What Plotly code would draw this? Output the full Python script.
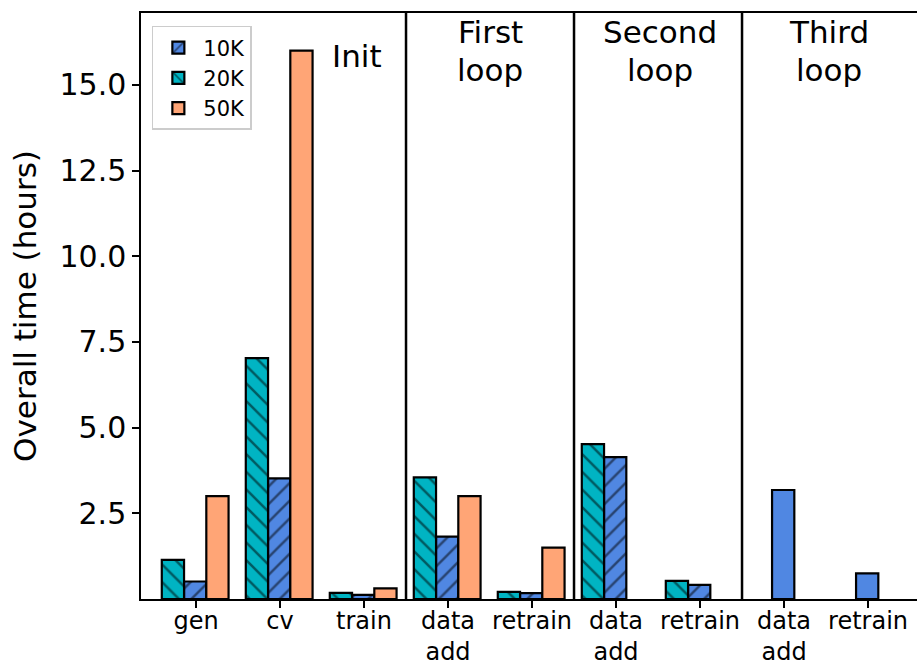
import plotly.graph_objects as go

# Pipeline stages (x categories)
stages = ["gen", "cv", "train", "data<br>add", "retrain",
          "data<br>add", "retrain", "data<br>add", "retrain"]

# Overall time in hours per dataset size (None = stage not run)
time_10k = [0.51, 3.52, 0.12, 1.82, 0.17, 4.14, 0.41, 3.18, 0.75]
time_20k = [1.14, 7.03, 0.18, 3.55, 0.21, 4.52, 0.53, None, None]
time_50k = [3.00, 16.0, 0.31, 3.00, 1.50, None, None, None, None]

# Hatching of the 10K bars per stage (third loop drawn plain)
hatch_10k = ["/", "/", "/", "/", "/", "/", "/", "", ""]

# Phase labels and the boundaries between phases
phase_labels = [["Init"], ["First", "loop"], ["Second", "loop"], ["Third", "loop"]]
phase_centers = [1.92, 3.5, 5.52, 7.54]
phase_bounds = [2.5, 4.5, 6.5]

ytick_vals = [2.5, 5.0, 7.5, 10.0, 12.5, 15.0]

BLUE = "#5087E2"
TEAL = "#00B4C3"
SALMON = "#FFA576"
FONT = "DejaVu Sans"

x = list(range(len(stages)))
w = 0.265

fig = go.Figure()


def hatched(shape, color):
    return dict(shape=shape, fgcolor="black", bgcolor=color, size=12.5,
                solidity=0.2, fillmode="overlay")


fig.add_trace(go.Bar(
    x=x, y=time_10k, name="10K", width=w, offset=-w / 2 - 0.01,
    marker=dict(color=BLUE, line=dict(color="black", width=2.2),
                pattern=hatched(hatch_10k, BLUE)),
))
fig.add_trace(go.Bar(
    x=x, y=time_20k, name="20K", width=w, offset=-1.5 * w - 0.01,
    marker=dict(color=TEAL, line=dict(color="black", width=2.2),
                pattern=hatched("\\", TEAL)),
))
fig.add_trace(go.Bar(
    x=x, y=time_50k, name="50K", width=w, offset=w / 2 - 0.01,
    marker=dict(color=SALMON, line=dict(color="black", width=2.2)),
))

# Vertical separators between phases
for b in phase_bounds:
    fig.add_shape(type="line", x0=b, x1=b, y0=0, y1=1, xref="x", yref="paper",
                  line=dict(color="black", width=2.5), layer="above")

# Phase titles
annotations = []
line_y = {1: [15.85], 2: [16.55, 15.45]}
for lab, cx in zip(phase_labels, phase_centers):
    ys = line_y[len(lab)]
    for txt, yy in zip(lab, ys):
        annotations.append(dict(x=cx, y=yy, xref="x", yref="y", text=txt,
                                showarrow=False, xanchor="center", yanchor="middle",
                                font=dict(family=FONT, size=31, color="black")))

fig.update_layout(
    width=917, height=665,
    margin=dict(l=141, r=0, t=13, b=66),
    plot_bgcolor="white", paper_bgcolor="white",
    barmode="overlay",
    font=dict(family=FONT, color="black"),
    annotations=annotations,
    legend=dict(x=0.014, y=0.978, xanchor="left", yanchor="top",
                bgcolor="white", bordercolor="#CCCCCC", borderwidth=1.5,
                font=dict(family=FONT, size=21), itemwidth=40,
                traceorder="normal"),
    showlegend=True,
)

fig.update_xaxes(
    range=[-0.655, 8.583], tickmode="array", tickvals=x, ticktext=stages,
    showline=True, linecolor="black", linewidth=1.5, mirror=True,
    ticks="outside", ticklen=7, tickwidth=1.5, tickcolor="black",
    tickfont=dict(family=FONT, size=24), showgrid=False, zeroline=False,
    ticklabelstandoff=-8, automargin=False,
)
fig.update_yaxes(
    range=[0, 17.1], tickmode="array", tickvals=ytick_vals,
    ticktext=[f"{v:.1f}" for v in ytick_vals],
    showline=True, linecolor="black", linewidth=1.5, mirror=False,
    ticks="outside", ticklen=7, tickwidth=1.5, tickcolor="black",
    tickfont=dict(family=FONT, size=30), showgrid=False, zeroline=False,
    title=dict(text="Overall time (hours)", font=dict(family=FONT, size=31),
               standoff=14),
    automargin=False,
)

fig.write_html("out.html")
